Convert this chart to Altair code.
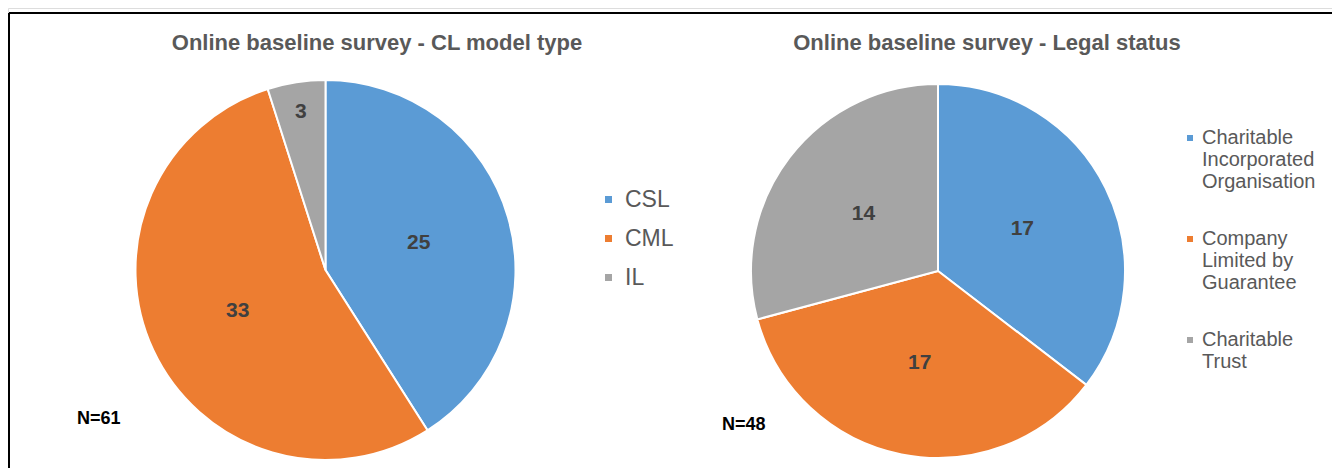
import altair as alt
import pandas as pd

# ---- data ----
model_types = ["CSL", "CML", "IL"]
model_counts = [25, 33, 3]
legal_statuses = ["Charitable Incorporated Organisation",
                  "Company Limited by Guarantee",
                  "Charitable Trust"]
legal_counts = [17, 17, 14]
legal_label_lines = {
    "Charitable Incorporated Organisation": ["Charitable", "Incorporated", "Organisation"],
    "Company Limited by Guarantee": ["Company", "Limited by", "Guarantee"],
    "Charitable Trust": ["Charitable", "Trust"],
}
title_left = "Online baseline survey - CL model type"
title_right = "Online baseline survey - Legal status"
n_left = "N=61"
n_right = "N=48"
palette = ["#5B9BD5", "#ED7D31", "#A5A5A5"]

FONT = "Liberation Sans, Arial, sans-serif"
LEG_FONT = "Liberation Sans, Arial, sans-serif"

df1 = pd.DataFrame({"cat": model_types, "count": model_counts, "ord": range(len(model_types))})
df2 = pd.DataFrame({"cat": legal_statuses, "count": legal_counts, "ord": range(len(legal_statuses))})

label_expr = " : ".join(
    f"datum.label == '{k}' ? {v!r}" for k, v in legal_label_lines.items()
) + " : datum.label"


def pie(df, domain, cx, cy, r, label_r, legend):
    base = alt.Chart(df).encode(
        theta=alt.Theta("count:Q", stack=True),
        order=alt.Order("ord:Q"),
    )
    arc = base.mark_arc(outerRadius=r, stroke="white", strokeWidth=2).encode(
        x=alt.value(cx), y=alt.value(cy),
        color=alt.Color("cat:N", scale=alt.Scale(domain=domain, range=palette),
                        sort=domain, legend=legend))
    txt = base.mark_text(radius=label_r, font=FONT, fontSize=21, fontWeight="bold",
                         align="center", baseline="middle").encode(
        x=alt.value(cx), y=alt.value(cy), text="count:Q",
        color=alt.value("#404040"))
    return alt.layer(arc, txt)


leg1 = alt.Legend(title=None, orient="none", legendX=589, legendY=180,
                  symbolType="square", symbolSize=49, symbolStrokeWidth=0,
                  labelFont=LEG_FONT, labelFontSize=23, labelColor="#595959",
                  rowPadding=15, padding=0, labelOffset=5)
leg2 = alt.Legend(title=None, orient="none", legendX=1172, legendY=120,
                  symbolType="square", symbolSize=36, symbolStrokeWidth=0,
                  labelFont=LEG_FONT, labelFontSize=20, labelColor="#595959",
                  labelExpr=label_expr, labelLimit=200,
                  rowPadding=37, padding=0, labelOffset=2)

pie1 = pie(df1, model_types, 317.5, 262, 190,
           alt.expr("datum.count < 5 ? 160 : 97"), leg1)
pie2 = pie(df2, legal_statuses, 930, 263, 187, 94, leg2)

anno = pd.DataFrame({"dummy": [0]})


def text_at(s, x, y, size, color, align="center"):
    return alt.Chart(anno).mark_text(font=FONT, fontSize=size, fontWeight="bold",
                                     color=color, align=align, baseline="middle").encode(
        x=alt.value(x), y=alt.value(y), text=alt.value(s))


t1 = text_at(title_left, 369, 35, 22, "#595959")
t2 = text_at(title_right, 979, 35, 22, "#595959")
n1 = text_at(n_left, 69, 411, 18, "#000000", "left")
n2 = text_at(n_right, 714, 417, 18, "#000000", "left")

frame_top = alt.Chart(anno).mark_rule(color="black", strokeWidth=2).encode(
    x=alt.value(1), x2=alt.value(1400), y=alt.value(5))
frame_left = alt.Chart(anno).mark_rule(color="black", strokeWidth=2).encode(
    x=alt.value(1), y=alt.value(5), y2=alt.value(600))

chart = alt.layer(frame_top, frame_left, pie1, pie2, t1, t2, n1, n2).resolve_scale(
    theta="independent", color="independent"
).properties(
    width=1324, height=460, padding=0, autosize=alt.AutoSizeParams(type="none")
).configure_view(stroke=None).configure(background="white")

chart.save("out.html", embed_options={"renderer": "svg", "actions": False})
